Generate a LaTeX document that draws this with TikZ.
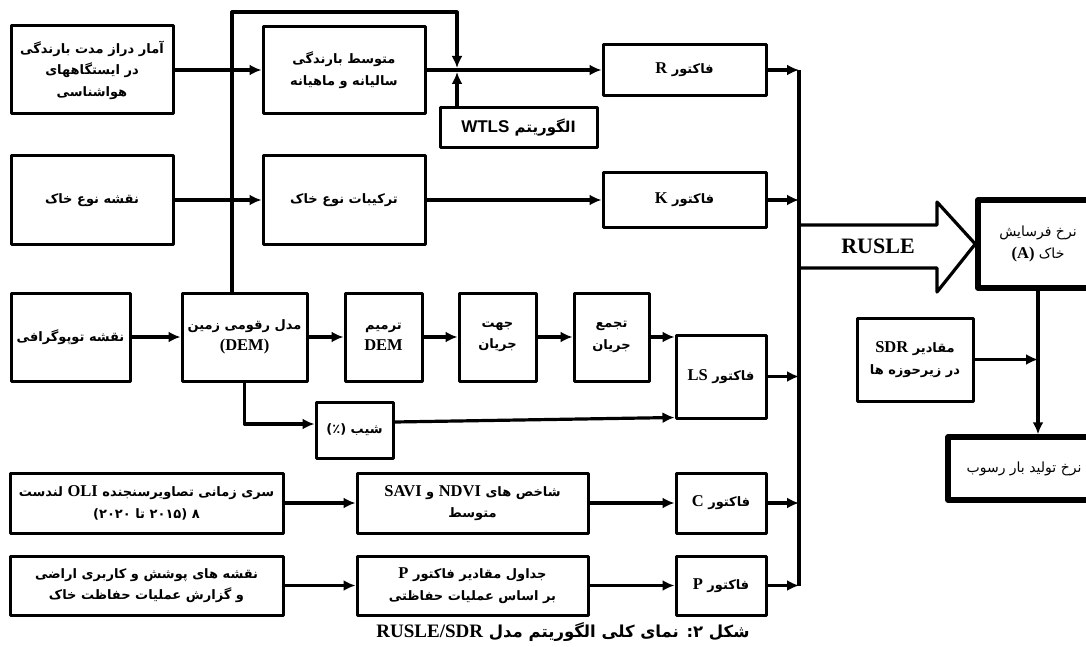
\documentclass[tikz,border=0pt]{standalone}
\usepackage{fontspec}
\setmainfont{Liberation Serif}
\setsansfont{Liberation Sans}
\newfontfamily\fa[Script=Arabic]{DejaVu Sans}
\TeXXeTstate=1
\usetikzlibrary{arrows.meta}

\newcommand{\rl}[1]{\beginR#1\endR}
\newcommand{\lat}[1]{\beginL{\rmfamily\bfseries\fontsize{16.5}{18}\selectfont #1}\endL}
\newcommand{\latsf}[1]{\beginL{\sffamily\bfseries\fontsize{17}{18}\selectfont #1}\endL}

\begin{document}
\begin{tikzpicture}[
        x = 1pt, y = -1pt,
        line join=round,
        box/.style = {draw, line width=3pt, align=center, inner sep=2pt,
            font=\fa\bfseries\fontsize{13}{21.5}\selectfont},
        bigbox/.style = {box, line width=5.5pt, font=\fa\fontsize{14}{22}\selectfont},
        line/.style = {line width=3.2pt},
        arr/.style = {line, -{Latex[length=12pt,width=11pt]}}
    ]
    \useasboundingbox (0,0) rectangle (1086,647);

    % inputs
    \node[box, minimum width=162, minimum height=88] (stats) at (92,70)
        {\rl{آمار دراز مدت بارندگی}\\\rl{در ایستگاههای}\\\rl{هواشناسی}};
    \node[box, minimum width=162, minimum height=88] (soilmap) at (92,200)
        {\rl{نقشه نوع خاک}};
    \node[box, minimum width=119, minimum height=88] (topo) at (70.5,337)
        {\rl{نقشه توپوگرافی}};
    \node[box, minimum width=273, minimum height=60] (landsat) at (146.5,503)
        {\rl{سری زمانی تصاویرسنجنده \lat{OLI} لندست}\\\rl{۸ (۲۰۱۵ تا ۲۰۲۰)}};
    \node[box, minimum width=273, minimum height=59] (lulc) at (146.5,585.5)
        {\rl{نقشه های پوشش و کاربری اراضی}\\\rl{و گزارش عملیات حفاظت خاک}};

    % processing
    \node[box, minimum width=162, minimum height=87] (avgrain) at (344,70)
        {\rl{متوسط بارندگی}\\\rl{سالیانه و ماهیانه}};
    \node[box, minimum width=157, minimum height=40, font=\fa\bfseries\fontsize{15}{18}\selectfont] (wtls) at (518.5,128)
        {\rl{الگوریتم \latsf{WTLS}}};
    \node[box, minimum width=162, minimum height=88] (soilcomp) at (344,200)
        {\rl{ترکیبات نوع خاک}};
    \node[box, minimum width=125, minimum height=88] (dem) at (244.5,337)
        {\rl{مدل رقومی زمین}\\\lat{(DEM)}};
    \node[box, minimum width=77, minimum height=88] (trim) at (383.5,337)
        {\rl{ترمیم}\\\lat{DEM}};
    \node[box, minimum width=77, minimum height=88] (flowdir) at (497.5,337)
        {\rl{جهت}\\\rl{جریان}};
    \node[box, minimum width=75, minimum height=88] (flowacc) at (611.5,337)
        {\rl{تجمع}\\\rl{جریان}};
    \node[box, minimum width=77, minimum height=56] (slope) at (354.5,430)
        {\rl{شیب \beginL(٪)\endL}};
    \node[box, minimum width=231, minimum height=60] (ndvi) at (472.5,503)
        {\rl{شاخص های \lat{NDVI} و \lat{SAVI}}\\\rl{متوسط}};
    \node[box, minimum width=231, minimum height=59] (ptable) at (472.5,585.5)
        {\rl{جداول مقادیر فاکتور \lat{P}}\\\rl{بر اساس عملیات حفاظتی}};

    % factors
    \node[box, minimum width=163, minimum height=51] (rfac) at (684.5,70) {\rl{فاکتور \lat{R}}};
    \node[box, minimum width=163, minimum height=55] (kfac) at (684.5,200) {\rl{فاکتور \lat{K}}};
    \node[box, minimum width=90, minimum height=83] (lsfac) at (721,376.5) {\rl{فاکتور \lat{LS}}};
    \node[box, minimum width=90, minimum height=60] (cfac) at (721,503) {\rl{فاکتور \lat{C}}};
    \node[box, minimum width=90, minimum height=59] (pfac) at (721,585.5) {\rl{فاکتور \lat{P}}};

    % outputs
    \node[bigbox, minimum width=120, minimum height=88] (erosion) at (1038,244)
        {\rl{نرخ فرسایش}\\\rl{خاک \lat{(A)}}};
    \node[box, minimum width=116, minimum height=83] (sdr) at (915,359.5)
        {\rl{مقادیر \lat{SDR}}\\\rl{در زیرحوزه ها}};
    \node[bigbox, minimum width=152, minimum height=63] (sediment) at (1024,468.5)
        {\rl{نرخ تولید بار رسوب}};

    \coordinate (split) at (232,12);
    \coordinate (join) at (457,70);
    \coordinate (bustop) at (799,70);
    \coordinate (busbot) at (799,585.5);

    \draw[arr] (stats.east) -- (avgrain.west);
    \draw[arr] (soilmap.east) -- (soilcomp.west);
    \draw[arr] (dem.north -| split) -- (split) -| ([yshift=2pt]join);
    \draw[arr] (wtls.north -| join) -- ([yshift=-2pt]join);
    \draw[arr] (avgrain.east) -- (rfac.west);
    \draw[arr] (soilcomp.east) -- (kfac.west);

    \draw[arr] (topo.east) -- (dem.west);
    \draw[arr] (dem.east) -- (trim.west);
    \draw[arr] (trim.east) -- (flowdir.west);
    \draw[arr] (flowdir.east) -- (flowacc.west);
    \draw[arr] (flowacc.east) -- (flowacc.east -| lsfac.west);
    \draw[arr] (dem.south) |- ([yshift=6pt]slope.west);
    \draw[arr] ([yshift=8pt]slope.east) -- ([yshift=2pt]lsfac.south west);

    \draw[arr] (landsat.east) -- (ndvi.west);
    \draw[arr] (ndvi.east) -- (cfac.west);
    \draw[arr] (lulc.east) -- (ptable.west);
    \draw[arr] (ptable.east) -- (pfac.west);

    % bus
    \draw[line] (bustop) -- (busbot);
    \foreach \f in {rfac,kfac,lsfac,cfac,pfac}
        \draw[arr] (\f.east) -- (\f.east -| bustop);

    % RUSLE arrow
    \draw[line] (799,225) -- (937,225) -- (937,202) -- (erosion.west)
        -- (937,292) -- (937,268) -- (799,268);
    \node[font=\rmfamily\bfseries\fontsize{22}{26}\selectfont] (rusle) at (878,246) {RUSLE};

    \draw[arr] (erosion.south) -- (erosion.south |- sediment.north);
    \draw[arr] (sdr.east) -- (sdr.east -| erosion.south);

    \node[font=\fa\bfseries\fontsize{16.5}{20}\selectfont] (caption) at (563,632)
        {\rl{شکل ۲: نمای کلی الگوریتم مدل \beginL{\rmfamily\bfseries\fontsize{19}{20}\selectfont RUSLE/SDR}\endL}};
\end{tikzpicture}
\end{document}
